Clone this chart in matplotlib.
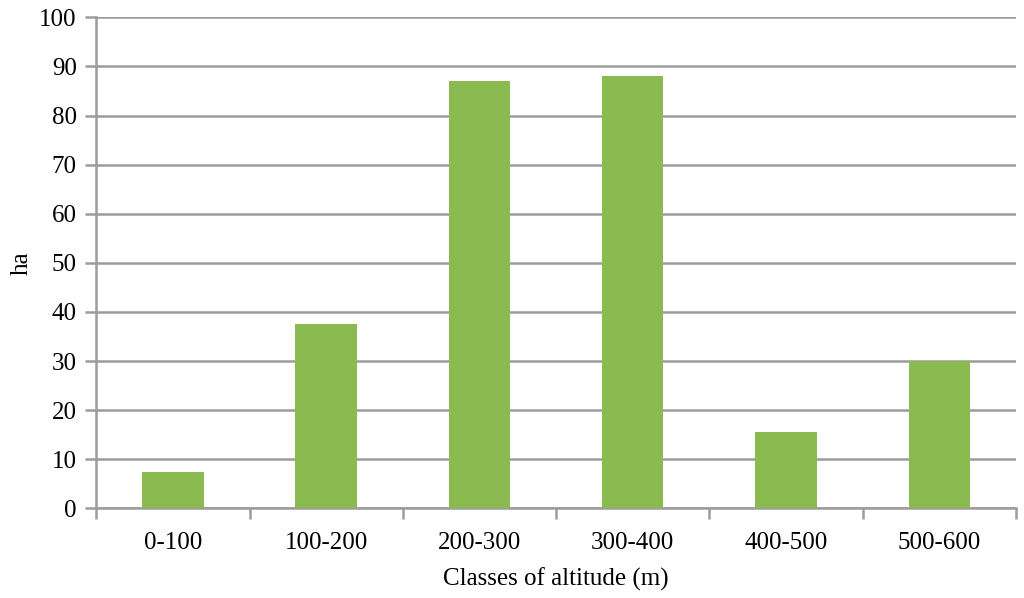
import numpy as np
import matplotlib
matplotlib.use("Agg")
import matplotlib.pyplot as plt

# data
classes = ['0-100', '100-200', '200-300', '300-400', '400-500', '500-600']
area_ha = [7.3, 37.5, 87.0, 88.0, 15.5, 30.1]
yticks = list(range(0, 101, 10))

plt.rcParams['font.family'] = ['Liberation Serif', 'DejaVu Serif']

fig = plt.figure(figsize=(10.24, 5.98), dpi=100)
ax = fig.add_axes([0.094, 0.150, 0.898, 0.821])

x = np.arange(len(classes))
ax.bar(x, area_ha, width=0.4, color='#8bbb50', zorder=3)

ax.set_xlim(-0.5, len(classes) - 0.5)
ax.set_ylim(0, 100)
ax.set_yticks(yticks)
ax.yaxis.grid(True, color='#9c9c9c', linewidth=1.8, zorder=0)

# category labels at centres, tick marks at the boundaries
ax.set_xticks(x)
ax.set_xticklabels(classes)
ax.set_xticks(np.arange(-0.5, len(classes)), minor=True)
ax.tick_params(axis='x', which='major', length=0, pad=17, labelsize=18)
ax.tick_params(axis='x', which='minor', length=8, width=1.8, color='#9c9c9c', direction='out')
ax.tick_params(axis='y', length=8, width=1.8, color='#9c9c9c', labelsize=18, pad=6)

for s in ['top', 'right']:
    ax.spines[s].set_visible(False)
for s in ['left', 'bottom']:
    ax.spines[s].set_color('#9c9c9c')
    ax.spines[s].set_linewidth(1.8)

ax.set_xlabel('Classes of altitude (m)', fontsize=18, labelpad=10)
ax.set_ylabel('ha', fontsize=18, labelpad=5)

fig.savefig('out.png', dpi=100)
